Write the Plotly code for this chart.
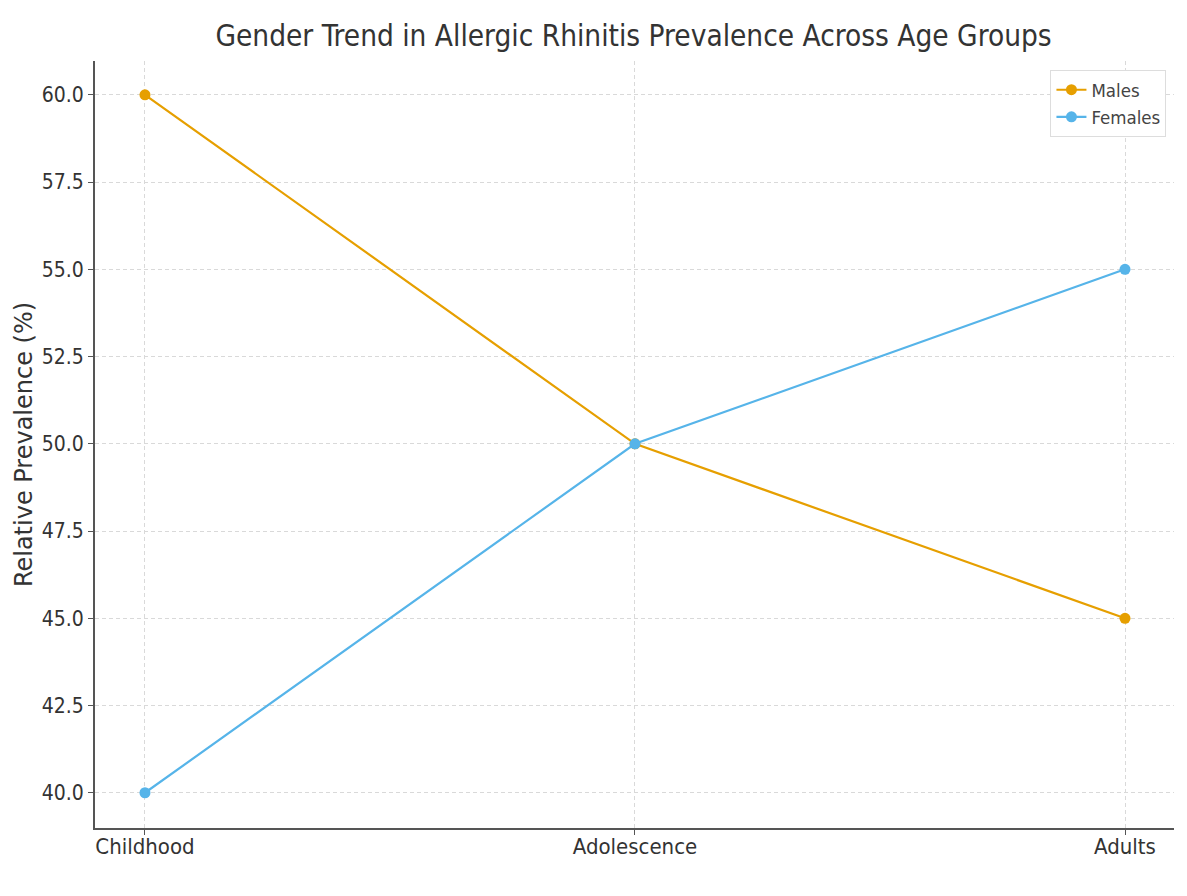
import plotly.graph_objects as go

# data
age_groups = ['Childhood', 'Adolescence', 'Adults']
males = [60, 50, 45]
females = [40, 50, 55]
y_ticks = [40.0, 42.5, 45.0, 47.5, 50.0, 52.5, 55.0, 57.5, 60.0]

FONT = 'DejaVu Sans Condensed, DejaVu Sans, sans-serif'

fig = go.Figure()
fig.add_trace(go.Scatter(x=[0, 1, 2], y=males, mode='lines+markers', name='Males',
                         line=dict(color='#E69F00', width=2.2), marker=dict(size=11)))
fig.add_trace(go.Scatter(x=[0, 1, 2], y=females, mode='lines+markers', name='Females',
                         line=dict(color='#56B4E9', width=2.2), marker=dict(size=11)))

fig.update_layout(
    width=1187, height=896,
    margin=dict(l=87, r=21, t=53, b=76),
    plot_bgcolor='white', paper_bgcolor='white',
    font=dict(family=FONT, color='#333333', size=22),
    title=dict(text='Gender Trend in Allergic Rhinitis Prevalence Across Age Groups',
               x=0.527, xanchor='center', y=0.969, yanchor='middle',
               font=dict(size=29.5, color='#333333')),
    legend=dict(x=0.993, y=0.988, xanchor='right', yanchor='top',
                bordercolor='#dddddd', borderwidth=1, bgcolor='white',
                font=dict(size=18.5, color='#444444')),
)
fig.update_xaxes(range=[-0.102, 2.1], tickvals=[0, 1, 2], ticktext=age_groups,
                 showline=True, linecolor='#555555', linewidth=2,
                 ticks='outside', ticklen=5, tickcolor='#555555', ticklabelstandoff=-7,
                 showgrid=True, gridcolor='#d9d9d9', griddash='4px,3px', gridwidth=1,
                 zeroline=False, automargin=False)
fig.update_yaxes(range=[38.99, 60.97], tickvals=y_ticks,
                 ticktext=[f'{v:.1f}' for v in y_ticks], tickfont=dict(size=21),
                 title=dict(text='Relative Prevalence (%)', standoff=2,
                            font=dict(size=24, family='DejaVu Sans, sans-serif')),
                 showline=True, linecolor='#555555', linewidth=2,
                 ticks='outside', ticklen=5, tickcolor='#555555',
                 showgrid=True, gridcolor='#d9d9d9', griddash='4px,3px', gridwidth=1,
                 zeroline=False, automargin=False)

fig.write_html('out.html')
